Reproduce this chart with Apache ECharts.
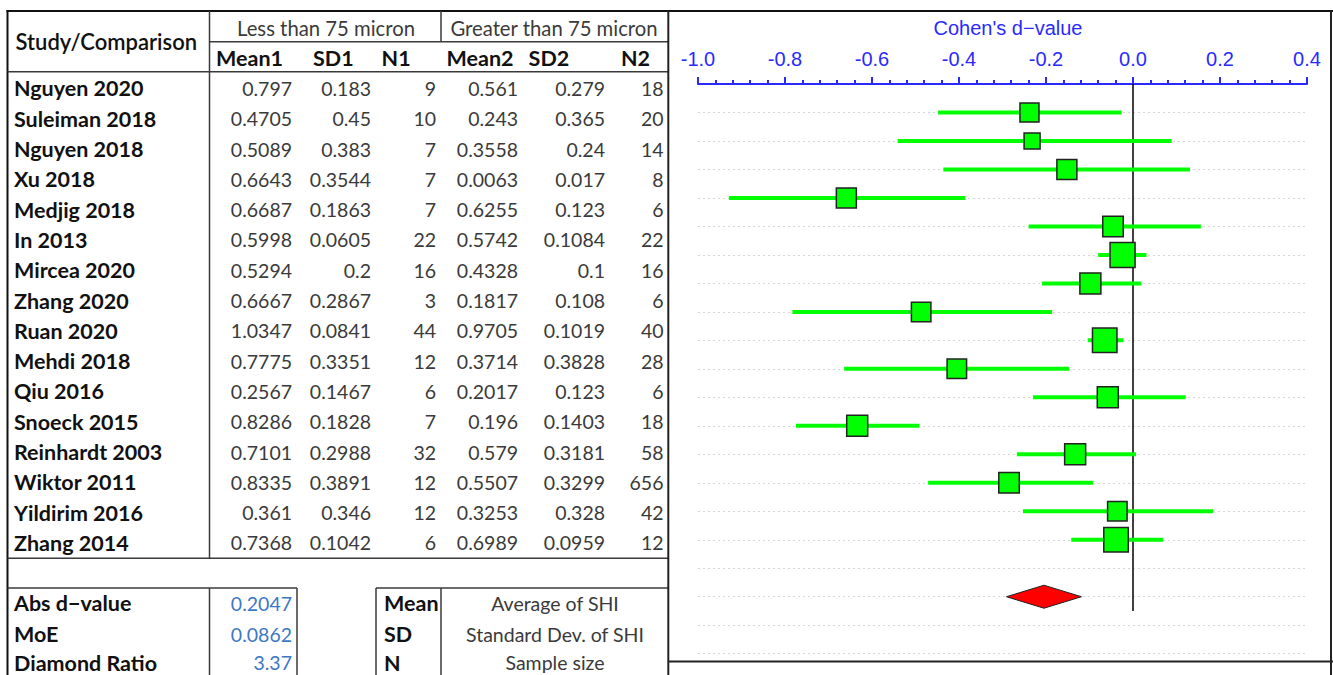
<!DOCTYPE html>
<html><head><meta charset="utf-8">
<script src="https://cdn.jsdelivr.net/npm/echarts@6/dist/echarts.min.js"></script>
<style>html,body{margin:0;padding:0;background:#fff}#c{width:1333px;height:675px}</style>
</head><body><div id="c"></div>
<script>
// ---------- data ----------
const studies = ['Nguyen 2020','Suleiman 2018','Nguyen 2018','Xu 2018','Medjig 2018','In 2013','Mircea 2020','Zhang 2020','Ruan 2020','Mehdi 2018','Qiu 2016','Snoeck 2015','Reinhardt 2003','Wiktor 2011','Yildirim 2016','Zhang 2014'];
const mean1 = [0.797,0.4705,0.5089,0.6643,0.6687,0.5998,0.5294,0.6667,1.0347,0.7775,0.2567,0.8286,0.7101,0.8335,0.361,0.7368];
const sd1   = [0.183,0.45,0.383,0.3544,0.1863,0.0605,0.2,0.2867,0.0841,0.3351,0.1467,0.1828,0.2988,0.3891,0.346,0.1042];
const n1    = [9,10,7,7,7,22,16,3,44,12,6,7,32,12,12,6];
const mean2 = [0.561,0.243,0.3558,0.0063,0.6255,0.5742,0.4328,0.1817,0.9705,0.3714,0.2017,0.196,0.579,0.5507,0.3253,0.6989];
const sd2   = [0.279,0.365,0.24,0.017,0.123,0.1084,0.1,0.108,0.1019,0.3828,0.123,0.1403,0.3181,0.3299,0.328,0.0959];
const n2    = [18,20,14,8,6,22,16,6,40,28,6,18,58,656,42,12];
// effect sizes
const dValue = [-0.238,-0.232,-0.152,-0.659,-0.046,-0.024,-0.098,-0.487,-0.065,-0.405,-0.058,-0.634,-0.133,-0.285,-0.036,-0.039];
const ciLow  = [-0.448,-0.541,-0.436,-0.929,-0.240,-0.080,-0.209,-0.783,-0.104,-0.664,-0.230,-0.775,-0.267,-0.471,-0.253,-0.142];
const ciHigh = [-0.026,0.089,0.131,-0.386,0.156,0.031,0.019,-0.186,-0.022,-0.147,0.121,-0.491,0.007,-0.092,0.184,0.069];
const relWeight = [19,16,20,20,20.5,25,21,19.5,24.5,19.5,21,21,21,20.5,19.5,24.5];
const absD = 0.2047, moe = 0.0862, diamondRatio = 3.37;
const summaryD = -0.2047;
const groupLabels = ['Less than 75 micron','Greater than 75 micron'];
const columnLabels = ['Mean1','SD1','N1','Mean2','SD2','N2'];
const summaryLabels = ['Abs d\u2212value','MoE','Diamond Ratio'];
const summaryValues = [absD, moe, diamondRatio];
const keyLabels = ['Mean','SD','N'];
const keyDescs = ['Average of SHI','Standard Dev. of SHI','Sample size'];
const xTicks = [-1.0,-0.8,-0.6,-0.4,-0.2,0.0,0.2,0.4];
const axisTitle = "Cohen's d\u2212value";

// ---------- layout ----------
const FONT = 'Lato';
const TXT = '#3a3a3a';
const LINE = '#3a3a3a';
const BLUE = '#2a2aff';
const BOLD_SIZE = 21.5;
const g = [];
function hline(x1,x2,y,w,c){ g.push({type:'line',silent:true,shape:{x1:x1,y1:y,x2:x2,y2:y},style:{stroke:c,lineWidth:w}}); }
function vline(x,y1,y2,w,c){ g.push({type:'line',silent:true,shape:{x1:x,y1:y1,x2:x,y2:y2},style:{stroke:c,lineWidth:w}}); }
function txt(t,x,y,align,weight,color,size){
  g.push({type:'text',silent:true,x:x,y:y,style:{text:t,fontFamily:FONT,fontSize:size||19.5,fontWeight:weight||'normal',fill:color||TXT,align:align,verticalAlign:'middle'}});
}
// table lines
hline(6.5,1333,11,2,'#111');
vline(7.5,10,675,2,'#111');
vline(209.5,11,558.3,1.5,LINE);
vline(441,11,41.7,1.5,LINE);
hline(209.5,668,41.7,1.5,LINE);
hline(7.5,668,71.7,1.5,LINE);
hline(7.5,668,558.3,1.5,LINE);
hline(7.5,297,588,1.5,LINE);
hline(376,668,588,1.5,LINE);
vline(209.5,588,675,1.5,LINE);
vline(297,588,675,1.5,LINE);
vline(376,588,675,1.5,LINE);
vline(441,588,675,1.5,LINE);
// plot frame
vline(668.3,11,675,2,'#222');
vline(1331,11,675,2,'#222');
hline(668,1333,661.5,2,'#222');
// headers
txt('Study/Comparison',15.5,41,'left','600','#111',BOLD_SIZE+0.5);
txt(groupLabels[0],326,28,'center','normal',TXT,20.3);
txt(groupLabels[1],554,28,'center','normal',TXT,20.3);
const headLeft = [216,313,381.6,446.6,528.6,621];
columnLabels.forEach((c,i)=>txt(c,headLeft[i],57.5,'left','bold','#111',BOLD_SIZE));
// rows
const rowY0 = 88.4, rowH = 30.3;
const colRight = [292,371,436,518,605,663.5];
const cols = [mean1,sd1,n1,mean2,sd2,n2];
studies.forEach((s,i)=>{
  const y = rowY0 + i*rowH;
  txt(s,14,y,'left','bold','#111',BOLD_SIZE);
  cols.forEach((arr,j)=>txt(String(arr[i]),colRight[j],y,'right','normal',TXT));
});
// summary
const sumY = [603.3,634,662.5];
summaryLabels.forEach((s,i)=>{
  txt(s,14,sumY[i],'left','bold','#111',BOLD_SIZE);
  txt(String(summaryValues[i]),292,sumY[i],'right','normal','#3d78c4');
  txt(keyLabels[i],384,sumY[i],'left','bold','#111',BOLD_SIZE);
  txt(keyDescs[i],555,sumY[i],'center','normal',TXT);
});

// ---------- chart data ----------
const barData = studies.map((s,i)=>[ciLow[i],ciHigh[i],i+1]);
const sqData = studies.map((s,i)=>[dValue[i],i+1,relWeight[i]]);
const diamondRow = studies.length + 2;
const diamondData = [[summaryD-moe,summaryD,summaryD+moe,diamondRow]];

const chart = echarts.init(document.getElementById('c'),null,{renderer:'svg'});
chart.setOption({
  animation:false,
  backgroundColor:'#fff',
  grid:{left:698,right:26,top:84,bottom:21.3,containLabel:false},
  xAxis:{
    type:'value',position:'top',min:xTicks[0],max:xTicks[xTicks.length-1],interval:0.2,
    name:axisTitle,nameLocation:'middle',nameGap:46,
    nameTextStyle:{color:BLUE,fontFamily:'Liberation Sans',fontSize:20,padding:[0,0,0,11]},
    axisLine:{show:true,onZero:false,lineStyle:{color:BLUE,width:2}},
    axisTick:{show:true,length:7,lineStyle:{color:BLUE,width:2}},
    minorTick:{show:true,splitNumber:5,length:4,lineStyle:{color:BLUE,width:2}},
    axisLabel:{color:BLUE,fontFamily:'Liberation Sans',fontSize:20,margin:15,
      formatter:v=>(Math.abs(v)<1e-9?0:v).toFixed(1)},
    splitLine:{show:false}
  },
  yAxis:{
    type:'value',inverse:true,min:0,max:20,interval:1,
    axisLine:{show:false},axisTick:{show:false},axisLabel:{show:false},
    splitLine:{show:true,lineStyle:{color:'#d6d6d6',width:1,type:[2,3]}}
  },
  series:[
    {type:'line',data:[[0,0],[0,18.5]],symbol:'none',lineStyle:{color:'#000',width:1.5},z:1,silent:true},
    {type:'custom',z:2,silent:true,data:barData,encode:{x:[0,1],y:2},
      renderItem:(params,api)=>{
        const p1 = api.coord([api.value(0),api.value(2)]);
        const p2 = api.coord([api.value(1),api.value(2)]);
        return {type:'line',shape:{x1:p1[0],y1:p1[1],x2:p2[0],y2:p2[1]},style:{stroke:'#00ff00',lineWidth:4}};
      }},
    {type:'scatter',z:3,silent:true,data:sqData,symbol:'rect',symbolSize:v=>v[2],
      itemStyle:{color:'#00ff00',borderColor:'#222',borderWidth:1.5,opacity:1}},
    {type:'custom',z:3,silent:true,data:diamondData,encode:{x:[0,1,2],y:3},
      renderItem:(params,api)=>{
        const r = api.value(3);
        const pl = api.coord([api.value(0),r]);
        const pc = api.coord([api.value(1),r]);
        const ph = api.coord([api.value(2),r]);
        const h = 11.5;
        return {type:'polygon',shape:{points:[pl,[pc[0],pc[1]-h],ph,[pc[0],pc[1]+h]]},
          style:{fill:'#ff0000',stroke:'#222',lineWidth:1}};
      }}
  ],
  graphic:g
});
</script></body></html>
